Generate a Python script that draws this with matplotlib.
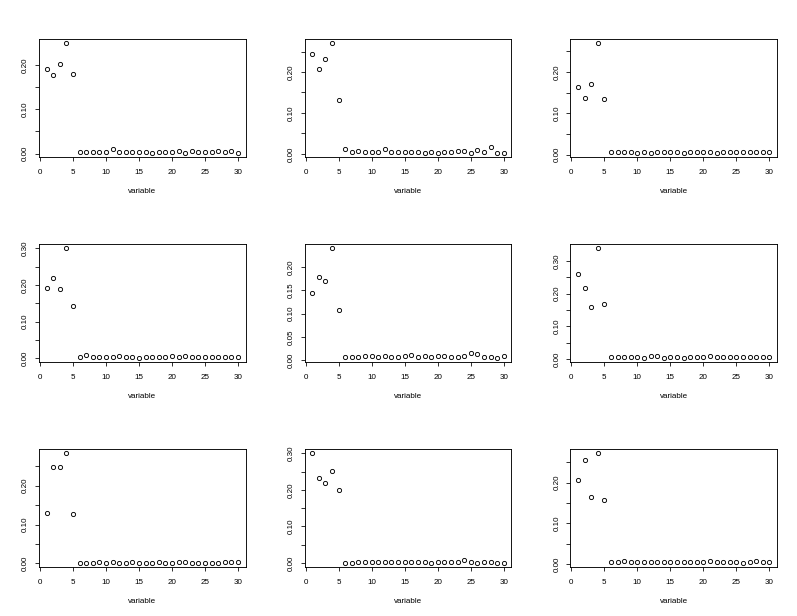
import numpy as np
import matplotlib
matplotlib.use("Agg")
import matplotlib.pyplot as plt

variable = np.arange(1, 31)

# importance scores per panel (row by row)
p1 = [0.191, 0.178, 0.203, 0.249, 0.180, 0.0045, 0.0045, 0.003, 0.0045, 0.0045,
      0.010, 0.004, 0.004, 0.004, 0.004, 0.004, 0.002, 0.003, 0.004, 0.0045,
      0.005, 0.002, 0.006, 0.003, 0.0045, 0.004, 0.005, 0.004, 0.006, 0.002]
p2 = [0.243, 0.207, 0.232, 0.270, 0.132, 0.0115, 0.005, 0.008, 0.005, 0.005,
      0.005, 0.012, 0.0055, 0.005, 0.004, 0.004, 0.004, 0.003, 0.0055, 0.003,
      0.004, 0.005, 0.008, 0.007, 0.003, 0.009, 0.004, 0.018, 0.003, 0.003]
p3 = [0.164, 0.138, 0.172, 0.269, 0.134, 0.006, 0.006, 0.006, 0.0065, 0.005,
      0.0065, 0.005, 0.006, 0.007, 0.0065, 0.007, 0.005, 0.006, 0.0055, 0.0055,
      0.0055, 0.005, 0.006, 0.0065, 0.007, 0.0075, 0.006, 0.007, 0.006, 0.0055]
p4 = [0.191, 0.218, 0.190, 0.300, 0.142, 0.004, 0.008, 0.0045, 0.0045, 0.003,
      0.003, 0.0055, 0.004, 0.004, 0.002, 0.004, 0.003, 0.004, 0.0045, 0.0065,
      0.0045, 0.0065, 0.004, 0.004, 0.0045, 0.0045, 0.004, 0.004, 0.004, 0.003]
p5 = [0.145, 0.179, 0.169, 0.240, 0.107, 0.007, 0.007, 0.0065, 0.008, 0.0087,
      0.0065, 0.0087, 0.0065, 0.006, 0.0087, 0.0115, 0.0065, 0.010, 0.006, 0.0094,
      0.008, 0.0065, 0.006, 0.008, 0.0144, 0.013, 0.006, 0.006, 0.0055, 0.0094]
p6 = [0.261, 0.216, 0.160, 0.338, 0.169, 0.005, 0.005, 0.005, 0.0055, 0.005,
      0.004, 0.008, 0.008, 0.004, 0.006, 0.005, 0.004, 0.005, 0.007, 0.005,
      0.008, 0.005, 0.005, 0.005, 0.005, 0.005, 0.005, 0.005, 0.007, 0.005]
p7 = [0.130, 0.248, 0.248, 0.283, 0.126, 0.002, 0.002, 0.002, 0.0025, 0.002,
      0.0025, 0.002, 0.002, 0.0025, 0.002, 0.002, 0.002, 0.003, 0.002, 0.002,
      0.0025, 0.0045, 0.002, 0.002, 0.002, 0.002, 0.002, 0.003, 0.003, 0.0045]
p8 = [0.300, 0.232, 0.219, 0.252, 0.201, 0.001, 0.001, 0.0015, 0.0015, 0.002,
      0.0015, 0.0015, 0.0015, 0.0015, 0.0015, 0.0015, 0.0015, 0.002, 0.001, 0.0015,
      0.0015, 0.0015, 0.002, 0.008, 0.002, 0.001, 0.002, 0.0015, 0.001, 0.001]
p9 = [0.206, 0.256, 0.164, 0.272, 0.156, 0.005, 0.0045, 0.007, 0.004, 0.004,
      0.004, 0.0045, 0.0045, 0.0055, 0.0045, 0.0045, 0.005, 0.0045, 0.0055, 0.0055,
      0.007, 0.0055, 0.005, 0.0045, 0.0045, 0.003, 0.0045, 0.008, 0.0045, 0.0045]

panels = [p1, p2, p3, p4, p5, p6, p7, p8, p9]
label_every = [2, 2, 2, 2, 1, 2, 2, 2, 2]  # which y ticks carry a label

plt.rcParams['font.family'] = ['Liberation Sans', 'DejaVu Sans']
plt.rcParams['font.size'] = 8

fig, axes = plt.subplots(3, 3, figsize=(797 / 72, 616 / 72), dpi=72)
fig.subplots_adjust(left=39 / 797, right=777 / 797, top=1 - 39 / 616,
                    bottom=1 - 567 / 616, wspace=0.285, hspace=0.737)

for ax, vals, step in zip(axes.flat, panels, label_every):
    vals = np.array(vals)
    ax.plot(variable, vals, 'o', mfc='none', mec='black', ms=4.2, mew=0.9)
    # R style 4% padding
    xr = variable.max() - variable.min()
    ax.set_xlim(variable.min() - 0.04 * xr, variable.max() + 0.04 * xr)
    yr = vals.max() - vals.min()
    ax.set_ylim(vals.min() - 0.04 * yr, vals.max() + 0.04 * yr)
    ax.set_xticks([0, 5, 10, 15, 20, 25, 30])
    yt = np.arange(0, vals.max() + 0.0001, 0.05)
    ax.set_yticks(yt)
    ax.set_yticklabels(['%.2f' % v if i % step == 0 else '' for i, v in enumerate(yt)],
                       rotation=90, va='center')
    ax.tick_params(length=4, width=0.8, labelsize=8)
    ax.tick_params(axis='x', pad=8)
    ax.tick_params(axis='y', pad=6)
    for s in ax.spines.values():
        s.set_linewidth(0.9)
    ax.set_xlabel('variable', fontsize=8, labelpad=12)

fig.savefig('out.png', dpi=72)
